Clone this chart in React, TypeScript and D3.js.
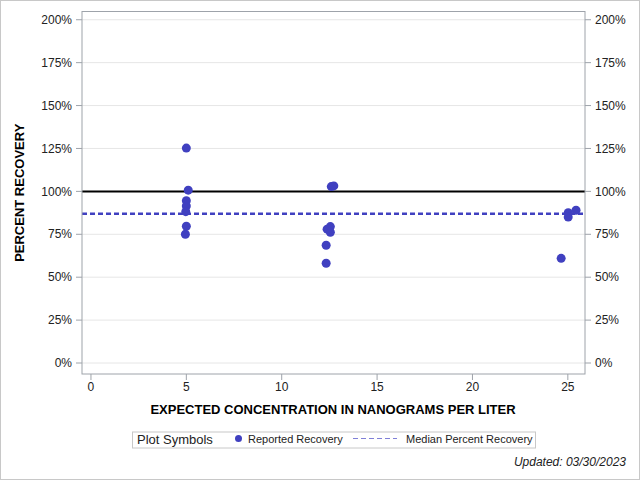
import React from "react";
import * as d3 from "d3";

const expectedConc = [5.0, 5.1, 5.0, 5.0, 4.97, 5.0, 4.95, 12.6, 12.73, 12.55, 12.38, 12.55, 12.33, 12.33, 24.65, 25.02, 25.02, 25.43];
const percentRecovery = [125.2, 100.7, 94.6, 91.5, 88.2, 79.7, 75.0, 102.8, 103.2, 79.5, 78.0, 76.2, 68.6, 58.1, 61.0, 87.6, 85.0, 89.0];
const medianRecovery = 86.9;
const referenceLine = 100;
const yTicks = [0, 25, 50, 75, 100, 125, 150, 175, 200];
const xTicks = [0, 5, 10, 15, 20, 25];

const FONT = "'Liberation Sans', Arial, sans-serif";
const DOT = "#4040c0";

export default function App() {
  const left = 82, right = 585, top = 11.5, bottom = 374;
  const x = d3.scaleLinear().domain([-0.47, 25.9]).range([left, right]);
  const y = d3.scaleLinear().domain([-6.4, 204.8]).range([bottom, top]);

  return (
    <svg width={640} height={480} style={{ position: "absolute", left: 0, top: 0 }} fontFamily={FONT}>
      <rect x={0.5} y={0.5} width={639} height={479} fill="#fff" stroke="#c8c8c8" />
      {/* gridlines */}
      {yTicks.map((t) => (
        <line key={"g" + t} x1={left} x2={right} y1={y(t)} y2={y(t)} stroke="#e6e6e6" strokeWidth={1} />
      ))}
      {/* reference line */}
      <line x1={left} x2={right} y1={y(referenceLine)} y2={y(referenceLine)} stroke="#000" strokeWidth={2} />
      {/* median */}
      <line x1={left} x2={right} y1={y(medianRecovery)} y2={y(medianRecovery)} stroke={DOT} strokeWidth={2.5} strokeDasharray="5,3" />
      {/* points */}
      {expectedConc.map((c, i) => (
        <circle key={i} cx={x(c)} cy={y(percentRecovery[i])} r={4.5} fill={DOT} />
      ))}
      {/* frame */}
      <rect x={left} y={top} width={right - left} height={bottom - top} fill="none" stroke="#9ea3aa" strokeWidth={1} />
      {/* left axis */}
      {yTicks.map((t) => (
        <g key={"l" + t}>
          <line x1={left - 6} x2={left} y1={y(t)} y2={y(t)} stroke="#9ea3aa" />
          <text x={72} y={y(t)} dy="0.35em" textAnchor="end" fontSize={12} fill="#222">{t}%</text>
          <line x1={right} x2={right + 6} y1={y(t)} y2={y(t)} stroke="#9ea3aa" />
          <text x={595} y={y(t)} dy="0.35em" textAnchor="start" fontSize={12} fill="#222">{t}%</text>
        </g>
      ))}
      {/* bottom axis */}
      {xTicks.map((t) => (
        <g key={"b" + t}>
          <line x1={x(t)} x2={x(t)} y1={bottom} y2={bottom + 6} stroke="#9ea3aa" />
          <text x={x(t)} y={391} textAnchor="middle" fontSize={12} fill="#222">{t}</text>
        </g>
      ))}
      <text x={333} y={414} textAnchor="middle" fontSize={13} fontWeight="bold" fill="#000">EXPECTED CONCENTRATION IN NANOGRAMS PER LITER</text>
      <text transform={`translate(24,${(top + bottom) / 2}) rotate(-90)`} textAnchor="middle" fontSize={13} fontWeight="bold" fill="#000">PERCENT RECOVERY</text>
      {/* legend */}
      <rect x={132.5} y={432} width={403} height={16} fill="none" stroke="#c8c8c8" />
      <text x={137} y={444} fontSize={13} fill="#222">Plot Symbols</text>
      <circle cx={238.5} cy={438.5} r={3.5} fill={DOT} />
      <text x={248} y={442.5} fontSize={11} fill="#222">Reported Recovery</text>
      <line x1={353} x2={397} y1={438.5} y2={438.5} stroke="#8080d8" strokeWidth={1} strokeDasharray="5,3" />
      <text x={406} y={442.5} fontSize={11} fill="#222">Median Percent Recovery</text>
      <text x={626} y={466} textAnchor="end" fontSize={12} fontStyle="italic" fill="#222">Updated: 03/30/2023</text>
    </svg>
  );
}
